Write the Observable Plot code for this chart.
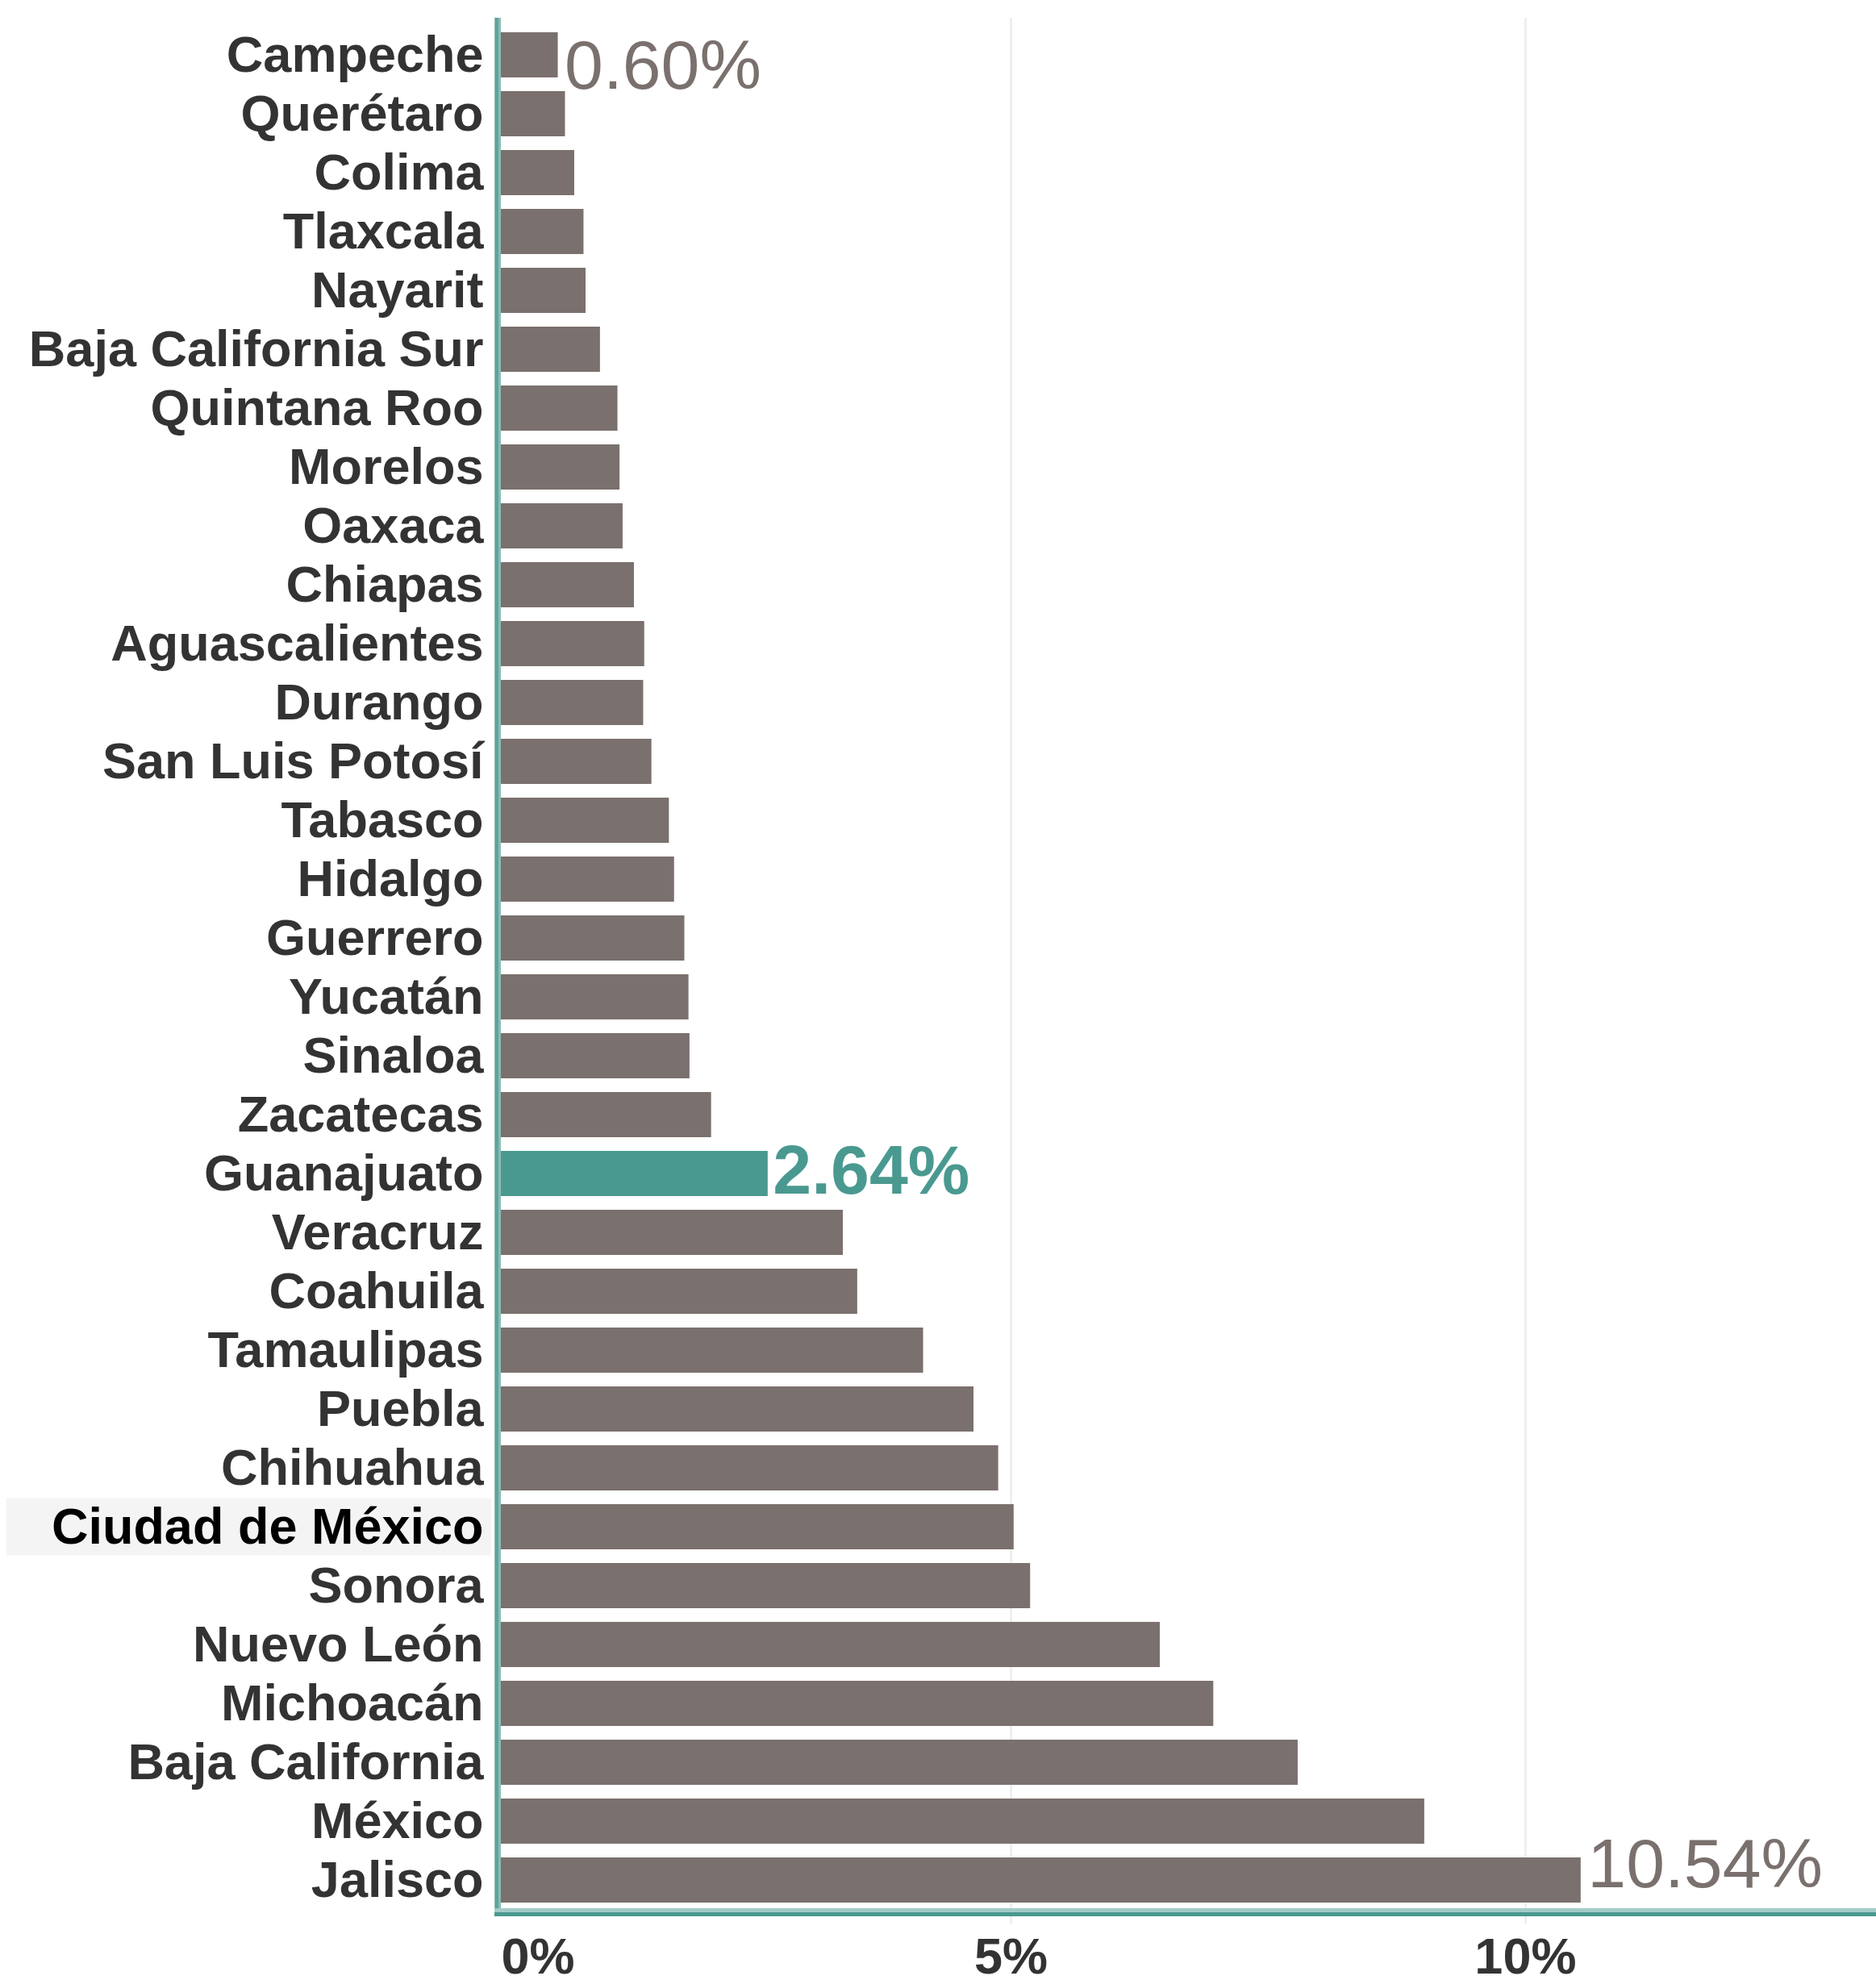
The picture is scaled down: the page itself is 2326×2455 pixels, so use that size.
<!DOCTYPE html>
<html>
<head>
<meta charset="utf-8">
<script src="https://cdn.jsdelivr.net/npm/d3@7"></script>
<script src="https://cdn.jsdelivr.net/npm/@observablehq/plot@0.6"></script>
<style>
  html, body { margin: 0; padding: 0; background: #fff; }
  svg { display: block; }
</style>
</head>
<body>
<div id="chart"></div>
<script>
const states = [
  "Campeche", "Querétaro", "Colima", "Tlaxcala", "Nayarit", "Baja California Sur",
  "Quintana Roo", "Morelos", "Oaxaca", "Chiapas", "Aguascalientes", "Durango",
  "San Luis Potosí", "Tabasco", "Hidalgo", "Guerrero", "Yucatán", "Sinaloa",
  "Zacatecas", "Guanajuato", "Veracruz", "Coahuila", "Tamaulipas", "Puebla",
  "Chihuahua", "Ciudad de México", "Sonora", "Nuevo León", "Michoacán",
  "Baja California", "México", "Jalisco"
];
const values = [
  0.60, 0.67, 0.76, 0.85, 0.87, 1.01,
  1.18, 1.20, 1.23, 1.34, 1.44, 1.43,
  1.51, 1.68, 1.73, 1.83, 1.87, 1.88,
  2.09, 2.64, 3.37, 3.51, 4.15, 4.64,
  4.88, 5.03, 5.19, 6.45, 6.97,
  7.79, 9.02, 10.54
];
const highlightState = "Guanajuato";
const emphasizedLabel = "Ciudad de México";
const labeledTop = ["Campeche"];
const labeledMid = ["Guanajuato"];
const labeledBottom = ["Jalisco"];
const xTicks = [0, 5, 10];
const xTickLabels = ["0%", "5%", "10%"];

const data = states.map((s, i) => ({state: s, value: values[i]}));
const pick = names => data.filter(d => names.includes(d.state));
const ticks = xTicks.map((t, i) => ({t, label: xTickLabels[i]}));

const GREY = "#7a706d";
const TEAL = "#4a9990";
const FONT = "'Liberation Sans', Arial, sans-serif";

function labelHighlight(index, scales, values, dims) {
  const y = scales.y;
  const step = y.step ? y.step() : 73.4;
  const cy = y(emphasizedLabel) + (y.bandwidth ? y.bandwidth() / 2 : 0);
  const r = document.createElementNS("http://www.w3.org/2000/svg", "rect");
  r.setAttribute("x", 8);
  r.setAttribute("width", dims.marginLeft - 8 - 6);
  r.setAttribute("y", cy - step / 2 + 1);
  r.setAttribute("height", step - 2);
  r.setAttribute("fill", "#f4f4f4");
  return r;
}

function axisLines(index, scales, values, dims) {
  const g = d3.create("svg:g");
  const x0 = dims.marginLeft;
  const yb = dims.height - dims.marginBottom;
  // left axis
  g.append("rect").attr("x", x0 - 2).attr("y", dims.marginTop).attr("width", 8)
    .attr("height", yb - dims.marginTop + 5).attr("fill", "#8cbcb6");
  g.append("rect").attr("x", x0 - 1).attr("y", dims.marginTop).attr("width", 4)
    .attr("height", yb - dims.marginTop + 5).attr("fill", "#5fa39b");
  // bottom axis
  g.append("rect").attr("x", x0 - 2).attr("y", yb - 5).attr("width", dims.width - x0 + 2)
    .attr("height", 5).attr("fill", "#a3cbc6");
  g.append("rect").attr("x", x0 - 2).attr("y", yb).attr("width", dims.width - x0 + 2)
    .attr("height", 5).attr("fill", TEAL);
  return g.node();
}

const chart = Plot.plot({
  width: 2326,
  height: 2455,
  marginLeft: 615,
  marginRight: 0,
  marginTop: 22,
  marginBottom: 84,
  style: {fontFamily: FONT, background: "#fff", overflow: "visible"},
  x: {domain: [0, 13.41], axis: null},
  y: {domain: states, range: [32, 2366], paddingInner: 0.238, paddingOuter: 0, axis: null},
  marks: [
    labelHighlight,
    Plot.ruleX(xTicks.filter(t => t > 0), {stroke: "#efefef", strokeWidth: 3, insetBottom: -14}),
    Plot.barX(data, {
      x: "value", y: "state",
      fill: d => d.state === highlightState ? TEAL : GREY
    }),
    axisLines,
    Plot.text(data, {
      y: "state", text: "state", frameAnchor: "left", textAnchor: "end", dx: -16,
      fontSize: 63, fontWeight: "bold",
      fill: d => d.state === emphasizedLabel ? "#000" : "#333"
    }),
    Plot.text(pick(labeledTop), {
      x: "value", y: "state", text: d => d.value.toFixed(2) + "%",
      textAnchor: "start", dx: 8, dy: 14, fontSize: 86, fill: GREY
    }),
    Plot.text(pick(labeledMid), {
      x: "value", y: "state", text: d => d.value.toFixed(2) + "%",
      textAnchor: "start", dx: 6, dy: -3, fontSize: 86, fontWeight: "bold", fill: TEAL
    }),
    Plot.text(pick(labeledBottom), {
      x: "value", y: "state", text: d => d.value.toFixed(2) + "%",
      textAnchor: "start", dx: 8, dy: -19, fontSize: 86, fill: GREY
    }),
    Plot.text(ticks.filter(d => d.t === 0), {
      x: "t", text: "label", frameAnchor: "bottom", lineAnchor: "middle",
      textAnchor: "start", dx: 6, dy: 55,
      fontSize: 63, fontWeight: "bold", fill: "#333"
    }),
    Plot.text(ticks.filter(d => d.t !== 0), {
      x: "t", text: "label", frameAnchor: "bottom", lineAnchor: "middle",
      textAnchor: "middle", dy: 55,
      fontSize: 63, fontWeight: "bold", fill: "#333"
    })
  ]
});
document.getElementById("chart").appendChild(chart);
</script>
</body>
</html>
